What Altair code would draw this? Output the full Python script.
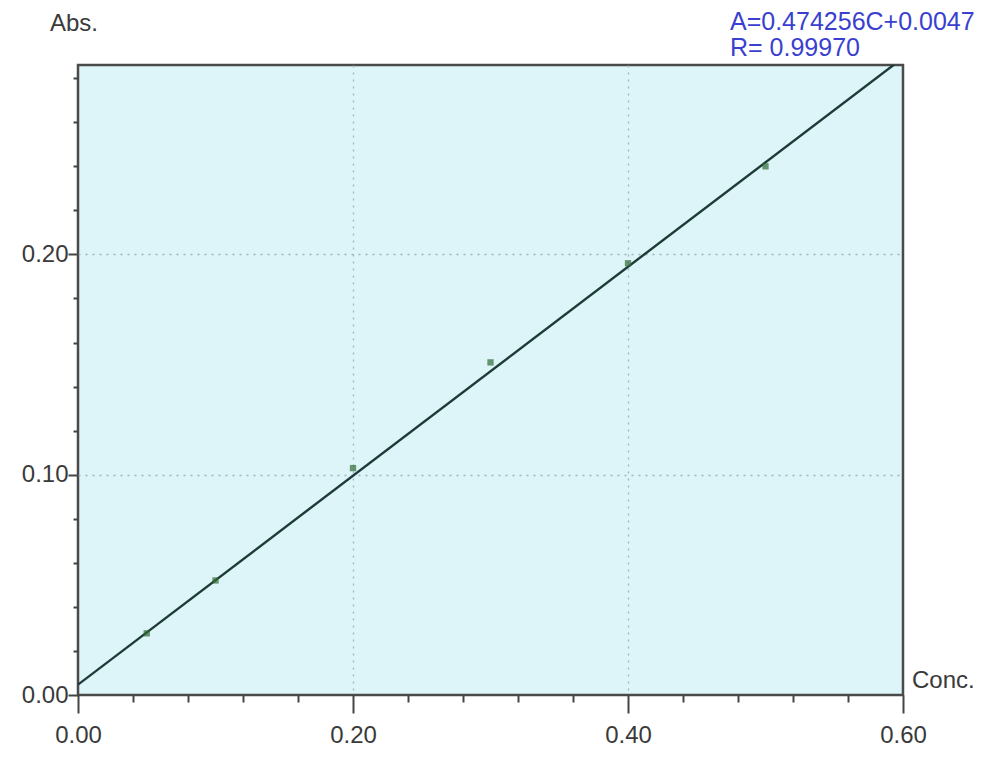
import altair as alt
import pandas as pd

# Calibration data
conc = [0.05, 0.10, 0.20, 0.30, 0.40, 0.50]
absorb = [0.028, 0.052, 0.103, 0.151, 0.196, 0.240]

# Fit shown on the chart
slope = 0.474256
intercept = 0.0047
fit_conc = [0.0, 0.6]

x_major = [0.0, 0.2, 0.4, 0.6]
x_grid = [0.2, 0.4]
x_minor = [0.04, 0.08, 0.12, 0.16, 0.24, 0.28, 0.32, 0.36, 0.44, 0.48, 0.52, 0.56]
y_major = [0.0, 0.1, 0.2]
y_grid = [0.1, 0.2]
y_minor = [0.02, 0.04, 0.06, 0.08, 0.12, 0.14, 0.16, 0.18, 0.22, 0.24, 0.26, 0.28]

eq_line1 = "A=0.474256C+0.0047"
eq_line2 = "R= 0.99970"

W, H = 825, 630
font = "Liberation Sans"
txt_col = "#3a3a3a"

pts = pd.DataFrame({"conc": conc, "abs": absorb})
fit = pd.DataFrame({"conc": fit_conc})

xs = alt.Scale(domain=[0, 0.6], nice=False, zero=False)
ys = alt.Scale(domain=[0, 0.286], nice=False, zero=False)

x_major_axis = alt.Axis(values=x_major, format=".2f", title=None, grid=False,
                        orient="bottom", labelFlush=False,
                        tickSize=18, tickWidth=2, tickColor="#444",
                        domain=False, labelFont=font, labelFontSize=24,
                        labelColor=txt_col, labelPadding=10)
y_major_axis = alt.Axis(values=y_major, format=".2f", title=None, grid=False,
                        orient="left", labelFlush=False,
                        tickSize=10, tickWidth=2, tickColor="#444",
                        domain=False, labelFont=font, labelFontSize=24,
                        labelColor=txt_col, labelPadding=0)
x_minor_axis = alt.Axis(values=x_minor, labels=False, title=None, grid=False,
                        orient="bottom",
                        tickSize=7, tickWidth=2, tickColor="#444", domain=False)
y_minor_axis = alt.Axis(values=y_minor, labels=False, title=None, grid=False,
                        orient="left",
                        tickSize=5, tickWidth=2, tickColor="#444", domain=False)
x_grid_axis = alt.Axis(values=x_grid, labels=False, ticks=False, title=None,
                       grid=True, orient="bottom", domain=False,
                       gridDash=[2, 5], gridColor="#9fb4b8", gridWidth=1.3)
y_grid_axis = alt.Axis(values=y_grid, labels=False, ticks=False, title=None,
                       grid=True, orient="left", domain=False,
                       gridDash=[2, 5], gridColor="#9fb4b8", gridWidth=1.3)

grid = alt.Chart(fit).mark_point(opacity=0).encode(
    x=alt.X("conc:Q", scale=xs, axis=x_grid_axis),
    y=alt.Y("conc:Q", scale=ys, axis=y_grid_axis),
)

line = alt.Chart(fit).transform_calculate(
    abs=f"{slope} * datum.conc + {intercept}"
).mark_line(color="#1d3b36", strokeWidth=2.4, clip=True).encode(
    x=alt.X("conc:Q", scale=xs, axis=x_major_axis),
    y=alt.Y("abs:Q", scale=ys, axis=y_major_axis),
)

minor = alt.Chart(fit).mark_point(opacity=0).encode(
    x=alt.X("conc:Q", scale=xs, axis=x_minor_axis),
    y=alt.Y("conc:Q", scale=ys, axis=y_minor_axis),
)

points = alt.Chart(pts).mark_point(shape="square", size=40, filled=True,
                                    color="#2f6b35").encode(
    x=alt.X("conc:Q", scale=xs, axis=None),
    y=alt.Y("abs:Q", scale=ys, axis=None),
)

def label(txt, x, y, size, color, align="left"):
    return alt.Chart(pd.DataFrame({"t": [txt]})).mark_text(
        align=align, baseline="middle", font=font, fontSize=size, color=color
    ).encode(x=alt.value(x), y=alt.value(y), text="t:N")

eq1 = label(eq_line1, W - 173, -43, 25, "#3a3fcf")
eq2 = label(eq_line2, W - 173, -17, 25, "#3a3fcf")
abs_lbl = label("Abs.", -28, -41, 24, txt_col)
conc_lbl = label("Conc.", W + 9, H - 14, 24, txt_col)

chart = alt.layer(grid, line, minor, points, eq1, eq2, abs_lbl, conc_lbl).resolve_axis(
    x="independent", y="independent"
).properties(
    width=W, height=H,
    autosize=alt.AutoSizeParams(type="none"),
    padding={"left": 70, "top": 57, "right": 78, "bottom": 53},
    background="white",
).configure_view(
    fill="#ddf5f8", stroke="#4a4a4a", strokeWidth=2.5
)

chart.save("out.html", embed_options={"renderer": "svg", "actions": False})
